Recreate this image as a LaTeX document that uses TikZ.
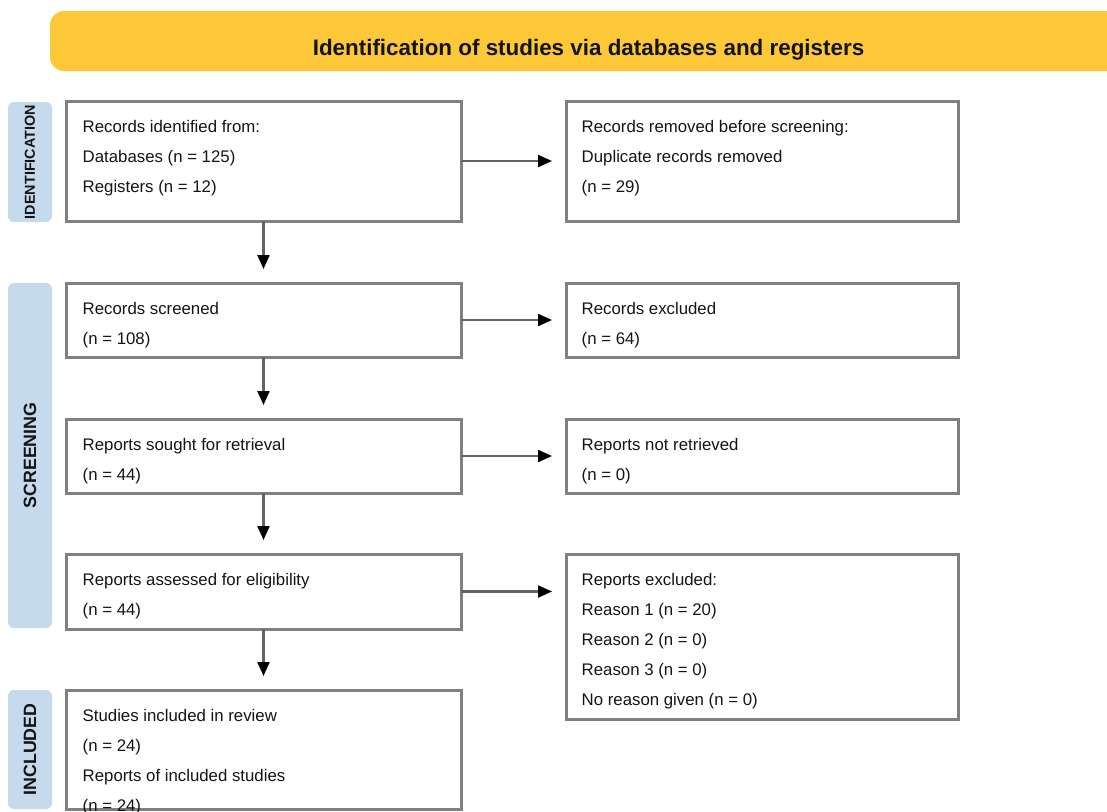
\documentclass[tikz,border=0pt]{standalone}
\usepackage{fontspec}
\setmainfont{Liberation Sans}
\usetikzlibrary{arrows.meta}
\definecolor{banner}{RGB}{252,200,56}
\definecolor{sidebl}{RGB}{198,218,238}
\definecolor{boxgray}{RGB}{128,128,128}
\definecolor{arrcol}{RGB}{100,100,100}
\definecolor{txtcol}{RGB}{20,20,20}
\begin{document}
\begin{tikzpicture}[x=1pt,y=-1pt,
  box/.style={draw=boxgray, line width=3pt, anchor=north west, inner sep=0pt, outer sep=0pt},
  txt/.style={anchor=north west, align=left, inner sep=0pt, text=txtcol,
    font=\fontsize{16.8}{30}\selectfont},
  side/.style={fill=sidebl, rounded corners=6pt, rotate=90, inner sep=0pt, text=txtcol},
  flow/.style={draw=arrcol, line width=2.2pt, -{Triangle[length=14pt,width=12pt,color=black]}}]
\clip (0,0) rectangle (1107,811);
% banner
\fill[banner, rounded corners=14pt] (50,11) rectangle (1130,71);
\node[anchor=base, inner sep=0pt, text=txtcol, font=\fontsize{22.4}{26}\selectfont\bfseries] (title) at (588.5,55)
  {Identification of studies via databases and registers};
% side labels
\node[side, minimum width=120pt, minimum height=44pt, font=\fontsize{14.4}{16}\selectfont\bfseries] (sid) at (30,162) {IDENTIFICATION};
\node[side, minimum width=345pt, minimum height=44pt, font=\fontsize{17.8}{20}\selectfont\bfseries] (sscr) at (30,455.5) {SCREENING};
\node[side, minimum width=119pt, minimum height=44pt, font=\fontsize{17.8}{20}\selectfont\bfseries] (sinc) at (30,749.5) {INCLUDED};
% boxes
\node[box, minimum width=395pt, minimum height=120pt] (b1) at (66,101) {};
\node[box, minimum width=392pt, minimum height=120pt] (r1) at (566,101) {};
\node[box, minimum width=395pt, minimum height=74pt] (b2) at (66,283) {};
\node[box, minimum width=392pt, minimum height=74pt] (r2) at (566,283) {};
\node[box, minimum width=395pt, minimum height=74pt] (b3) at (66,419) {};
\node[box, minimum width=392pt, minimum height=74pt] (r3) at (566,419) {};
\node[box, minimum width=395pt, minimum height=75pt] (b4) at (66,554) {};
\node[box, minimum width=392pt, minimum height=165pt] (r4) at (566,554) {};
\node[box, minimum width=395pt, minimum height=119pt] (b5) at (66,690) {};
% texts
\node[txt] (b1t) at ([shift={(16.5,19.5)}]b1.north west) {Records identified from:\\Databases (n = 125)\\Registers (n = 12)};
\node[txt] (r1t) at ([shift={(15.5,19.5)}]r1.north west) {Records removed before screening:\\Duplicate records removed\\(n = 29)};
\node[txt] (b2t) at ([shift={(16.5,19.5)}]b2.north west) {Records screened\\(n = 108)};
\node[txt] (r2t) at ([shift={(15.5,19.5)}]r2.north west) {Records excluded\\(n = 64)};
\node[txt] (b3t) at ([shift={(16.5,19.5)}]b3.north west) {Reports sought for retrieval\\(n = 44)};
\node[txt] (r3t) at ([shift={(15.5,19.5)}]r3.north west) {Reports not retrieved\\(n = 0)};
\node[txt] (b4t) at ([shift={(16.5,19.5)}]b4.north west) {Reports assessed for eligibility\\(n = 44)};
\node[txt] (r4t) at ([shift={(15.5,19.5)}]r4.north west) {Reports excluded:\\Reason 1 (n = 20)\\Reason 2 (n = 0)\\Reason 3 (n = 0)\\No reason given (n = 0)};
\node[txt] (b5t) at ([shift={(16.5,19.5)}]b5.north west) {Studies included in review\\(n = 24)\\Reports of included studies\\(n = 24)};
% arrows
\draw[flow] (b1.east) -- ([xshift=-14pt]r1.west |- b1.east);
\draw[flow] (b2.east) -- ([xshift=-14pt]r2.west |- b2.east);
\draw[flow] (b3.east) -- ([xshift=-14pt]r3.west |- b3.east);
\draw[flow] (b4.east) -- ([xshift=-14pt]r4.west |- b4.east);
\draw[flow] (b1.south) -- ([yshift=14pt]b2.north);
\draw[flow] (b2.south) -- ([yshift=14pt]b3.north);
\draw[flow] (b3.south) -- ([yshift=14pt]b4.north);
\draw[flow] (b4.south) -- ([yshift=14pt]b5.north);
\end{tikzpicture}
\end{document}
